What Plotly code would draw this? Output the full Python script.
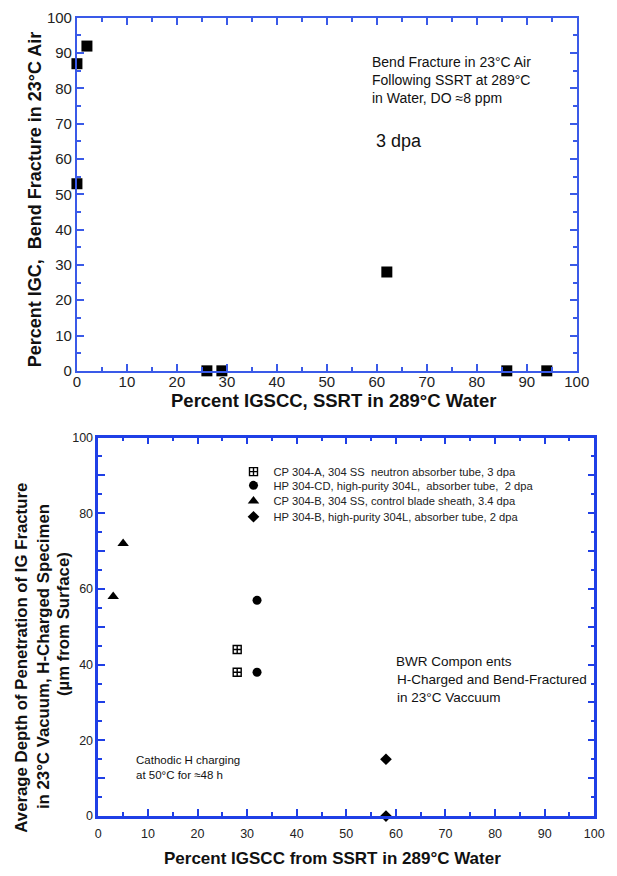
import plotly.graph_objects as go

W, H = 617, 876

# Top chart data
top_x = [0, 2, 0, 26, 29, 62, 86, 94]
top_y = [87, 92, 53, 0, 0, 28, 0, 0]

# Bottom chart data
cp304a_x = [28, 28]
cp304a_y = [44, 38]
hp304cd_x = [32, 32]
hp304cd_y = [57, 38]
cp304b_x = [3, 5]
cp304b_y = [58, 72]
hp304b_x = [58, 58]
hp304b_y = [15, 0]

names = [
    "CP 304-A, 304 SS  neutron absorber tube, 3 dpa",
    "HP 304-CD, high-purity 304L,  absorber tube,  2 dpa",
    "CP 304-B, 304 SS, control blade sheath, 3.4 dpa",
    "HP 304-B, high-purity 304L, absorber tube, 2 dpa",
]

FONT = "Liberation Sans, Arial, Helvetica, sans-serif"
BLUE1 = "#3a5ae8"
BLUE2 = "#1f3fe6"


def px_x(p):
    return p / W


def px_y(p):
    return 1 - p / H


fig = go.Figure()

fig.add_trace(go.Scatter(
    x=top_x, y=top_y, mode="markers", xaxis="x", yaxis="y",
    marker=dict(symbol="square", size=11, color="black"),
    showlegend=False, cliponaxis=False))

series = [
    (cp304a_x, cp304a_y, "square-cross-open", 8, 1.4),
    (hp304cd_x, hp304cd_y, "circle", 9, 0),
    (cp304b_x, cp304b_y, "triangle-up", 10, 0),
    (hp304b_x, hp304b_y, "diamond", 9, 0),
]
legend_ids = ["legend", "legend2", "legend3", "legend4"]
legend_rows = [457, 471, 487, 503]
for (xs, ys, sym, sz, lw), nm, lid in zip(series, names, legend_ids):
    fig.add_trace(go.Scatter(
        x=xs, y=ys, mode="markers", xaxis="x2", yaxis="y2", name=nm, legend=lid,
        marker=dict(symbol=sym, size=sz, color="black",
                    line=dict(color="black", width=lw)),
        cliponaxis=False))

common = dict(showgrid=False, zeroline=False, showline=True, mirror="ticks",
              ticks="inside", range=[0, 100], fixedrange=True)

layout_legends = {}
for lid, row in zip(legend_ids, legend_rows):
    layout_legends[lid] = dict(x=px_x(236), y=px_y(row), xanchor="left", yanchor="top",
                               bgcolor="rgba(0,0,0,0)", font=dict(size=11.2, color="#222"),
                               itemwidth=30)

fig.update_layout(
    width=W, height=H, margin=dict(l=0, r=0, t=0, b=0),
    paper_bgcolor="white", plot_bgcolor="white",
    font=dict(family=FONT, color="#222"),
    xaxis=dict(domain=[px_x(75), px_x(589)], anchor="y", dtick=10, tick0=0,
               linecolor=BLUE1, linewidth=2, tickcolor=BLUE1, ticklen=7, tickwidth=2,
               minor=dict(dtick=5, ticks="inside", ticklen=4, tickcolor=BLUE1, tickwidth=1.5),
               ticklabelstandoff=-4,
               tickfont=dict(size=15, color="#222"), **common),
    yaxis=dict(domain=[px_y(369), px_y(9)], anchor="x", dtick=10, tick0=0,
               linecolor=BLUE1, linewidth=2, tickcolor=BLUE1, ticklen=7, tickwidth=2,
               minor=dict(dtick=5, ticks="inside", ticklen=4, tickcolor=BLUE1, tickwidth=1.5),
               tickfont=dict(size=15, color="#222"), **common),
    xaxis2=dict(domain=[px_x(97), px_x(607)], anchor="y2", dtick=10, tick0=0,
                linecolor=BLUE2, linewidth=2.5, tickcolor=BLUE2, ticklen=7, tickwidth=2,
                minor=dict(dtick=5, ticks="inside", ticklen=4, tickcolor=BLUE2, tickwidth=1.5),
                ticklabelstandoff=4,
                tickfont=dict(size=12.5, color="#222"), **common),
    yaxis2=dict(domain=[px_y(823), px_y(437)], anchor="x2",
                tickvals=[0, 10, 20, 30, 40, 50, 60, 70, 80, 90, 100],
                ticktext=["0", "", "20", "", "40", "", "60", "", "80", "", "100"],
                linecolor=BLUE2, linewidth=2.5, tickcolor=BLUE2, ticklen=7, tickwidth=2,
                minor=dict(dtick=5, ticks="inside", ticklen=4, tickcolor=BLUE2, tickwidth=1.5),
                tickfont=dict(size=12.5, color="#222"), **common),
    **layout_legends,
)

ann = []


def A(text, x, y, size, bold=False, angle=0, xanchor="left", yanchor="middle", align="left"):
    ann.append(dict(text=("<b>%s</b>" % text) if bold else text,
                    x=px_x(x), y=px_y(y), xref="paper", yref="paper",
                    xanchor=xanchor, yanchor=yanchor, showarrow=False,
                    textangle=angle, align=align,
                    font=dict(size=size, family=FONT, color="#111")))


A("Bend Fracture in 23°C Air<br>Following SSRT at 289°C<br>in Water, DO ≈8 ppm", 376, 72, 14)
A("3 dpa", 380, 135, 18)
A("Percent IGSCC, SSRT in 289°C Water", 339, 399, 18.5, bold=True, xanchor="center")
A("Percent IGC,  Bend Fracture in 23°C Air", 32, 194, 18, bold=True, angle=-90, xanchor="center")

A("BWR Compon ents", 401, 665, 13.5)
A("H-Charged and Bend-Fractured<br>in 23°C Vaccuum", 402, 693, 13.5)
A("Cathodic H charging<br>at 50°C for ≈48 h", 134, 774, 11.5)
A("Percent IGSCC from SSRT in 289°C Water", 338, 866, 17, bold=True, xanchor="center")
A("Average Depth of Penetration of IG Fracture", 18, 662, 16.8, bold=True, angle=-90, xanchor="center")
A("in 23°C Vacuum, H-Charged Specimen", 40, 660, 16.8, bold=True, angle=-90, xanchor="center")
A("(µm from Surface)", 62, 627, 16.8, bold=True, angle=-90, xanchor="center")

fig.update_layout(annotations=ann)

fig.write_html("out.html")
